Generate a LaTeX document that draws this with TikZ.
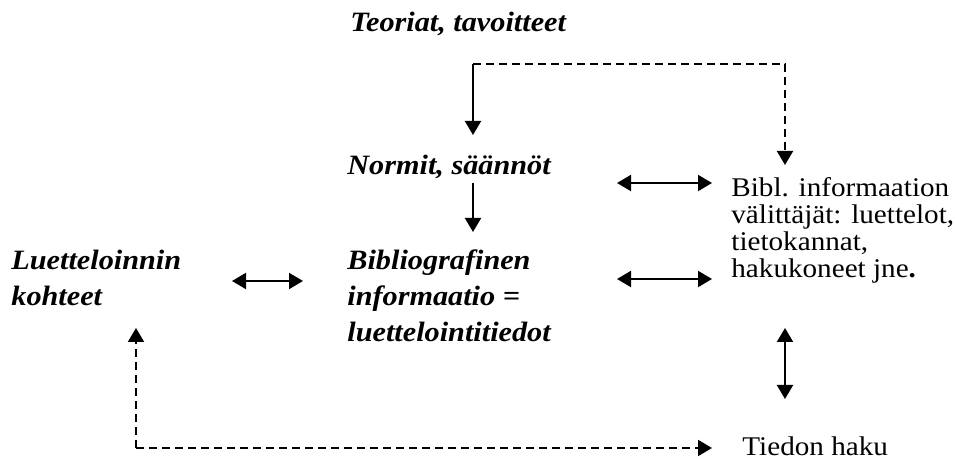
\documentclass[tikz,border=0pt]{standalone}
\usepackage{fontspec}
\setmainfont{Liberation Serif}[FakeStretch=1.08]
\usetikzlibrary{arrows.meta}

\begin{document}
\begin{tikzpicture}[x=0.5pt, y=-0.5pt,
    teksti/.style={inner sep=0pt, anchor=base west, align=left,
        font=\fontsize{13.5}{13.6}\selectfont},
    korostus/.style={teksti, font=\fontsize{14}{18}\selectfont\bfseries\itshape},
    nuoli/.style={black, line width=1pt, -{Triangle[length=7pt, width=8pt]}},
    kaksinuoli/.style={nuoli, {Triangle[length=7pt, width=8pt]}-{Triangle[length=7pt, width=8pt]}},
    katko/.style={nuoli, dash pattern=on 4pt off 2.5pt}]
    \useasboundingbox (0,0) rectangle (955,464);

    % Tekstit (ankkuri = viimeisen rivin perusviiva)
    \node[korostus] (teoriat) at (350,32) {Teoriat, tavoitteet};
    \node[korostus] (normit) at (347,175) {Normit, säännöt};
    \node[korostus] (bibinfo) at (347,342) {Bibliografinen\\informaatio =\\luettelointitiedot};
    \node[korostus] (kohteet) at (11,306) {Luetteloinnin\\kohteet};
    \node[teksti] (valittajat) at (731,278) {Bibl. informaation\\välittäjät: luettelot,\\tietokannat,\\hakukoneet jne\textbf{.}};
    \node[teksti] (haku) at (742,456) {Tiedon haku};

    % Pisteet
    \coordinate (ylavasen) at (473,64);
    \coordinate (ylaoikea) at (785,64);
    \coordinate (normitkarki) at (473,135);
    \coordinate (oikeakarki) at (785,165);
    \coordinate (normitala) at (473,183);
    \coordinate (bibinfokarki) at (473,232);
    \coordinate (alavasen) at (136,448);
    \coordinate (kohteetkarki) at (136,328);
    \coordinate (hakukarki) at (712,448);

    % Ylhaalta alas
    \draw[nuoli] (ylavasen) -- (normitkarki);
    \draw[katko] (ylavasen) -- (ylaoikea) -- (oikeakarki);
    \draw[nuoli] (normitala) -- (bibinfokarki);

    % Kaksisuuntaiset
    \draw[kaksinuoli] (232,281) -- (303,281);
    \draw[kaksinuoli] (617,183) -- (712,183);
    \draw[kaksinuoli] (617,279) -- (712,279);
    \draw[kaksinuoli] (785,328) -- (785,399);

    % Tiedon haku
    \draw[katko] (hakukarki -| alavasen) -- (kohteetkarki);
    \draw[katko] (alavasen) -- (hakukarki);
\end{tikzpicture}
\end{document}
